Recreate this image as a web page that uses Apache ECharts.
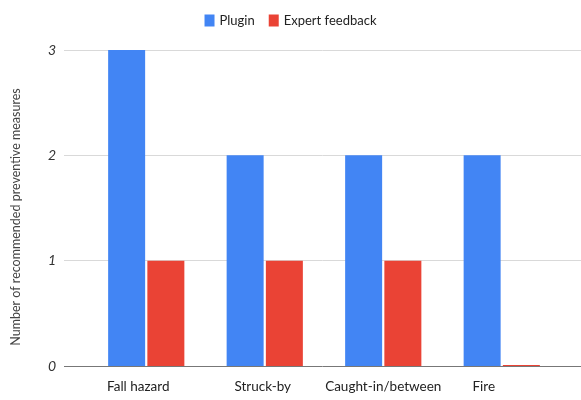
<!DOCTYPE html>
<html>
<head>
<meta charset="utf-8">
<script src="https://cdn.jsdelivr.net/npm/echarts@6/dist/echarts.min.js"></script>
<style>
  html, body { margin: 0; padding: 0; background: #fff; }
  #chart { width: 581px; height: 400px; }
</style>
</head>
<body>
<div id="chart"></div>
<script>
// Hazard categories and counts of recommended preventive measures
const categories = ['Fall hazard', 'Struck-by', 'Caught-in/between', 'Fire'];
const pluginValues = [3, 2, 2, 2];
const expertValues = [1, 1, 1, 0];
const yTicks = [0, 1, 2, 3];

const FONT = 'Lato, "Open Sans", sans-serif';
// small per-label nudges so names sit under their bars
const labelShift = [16, 4, 0, 36];

const chart = echarts.init(document.getElementById('chart'));
chart.setOption({
  animation: false,
  backgroundColor: '#ffffff',
  legend: {
    top: 9,
    left: 'center',
    itemWidth: 10,
    itemHeight: 12,
    itemGap: 14,
    icon: 'rect',
    textStyle: { fontFamily: FONT, fontSize: 13, color: '#222' },
    data: ['Plugin', 'Expert feedback']
  },
  grid: [
    { left: 64, right: 0, top: 50, bottom: 34 },
    { left: 87, right: 20, top: 50, bottom: 34 }
  ],
  xAxis: [
    {
      gridIndex: 0, type: 'value', min: 0, max: 1,
      axisLine: { show: false }, axisTick: { show: false },
      axisLabel: { show: false }, splitLine: { show: false }
    },
    {
      gridIndex: 1, type: 'category',
      data: categories.map((c, i) => ({
        value: c,
        textStyle: { padding: [0, labelShift[i], 0, 0] }
      })),
      axisLine: { show: false }, axisTick: { show: false },
      axisLabel: { interval: 0, hideOverlap: false, fontFamily: FONT, fontSize: 13.5, color: '#222', margin: 14 }
    }
  ],
  yAxis: [
    {
      gridIndex: 0, type: 'value', min: yTicks[0], max: yTicks[yTicks.length - 1], interval: 1,
      name: 'Number of recommended preventive measures',
      nameLocation: 'middle', nameGap: 42,
      nameTextStyle: { fontFamily: FONT, fontSize: 12.5, color: '#444', padding: [0, 18, 0, 0] },
      axisLine: { show: false }, axisTick: { show: false },
      axisLabel: { fontFamily: FONT, fontSize: 14, fontStyle: 'italic', color: '#333', margin: 8 },
      splitLine: {
        lineStyle: {
          color: ['#777', '#d9d9d9', '#d9d9d9', '#d9d9d9'],
          width: 1
        }
      }
    },
    {
      gridIndex: 1, type: 'value', min: 0, max: 3, interval: 1,
      show: false, splitLine: { show: false }
    }
  ],
  series: [
    {
      name: 'Plugin', type: 'bar', xAxisIndex: 1, yAxisIndex: 1,
      data: pluginValues, barWidth: 37, barGap: '6%',
      itemStyle: { color: '#4285f4' }
    },
    {
      name: 'Expert feedback', type: 'bar', xAxisIndex: 1, yAxisIndex: 1,
      data: expertValues, barWidth: 37, barGap: '6%', barMinHeight: 1,
      itemStyle: { color: '#ea4335' }
    }
  ]
});
</script>
</body>
</html>
